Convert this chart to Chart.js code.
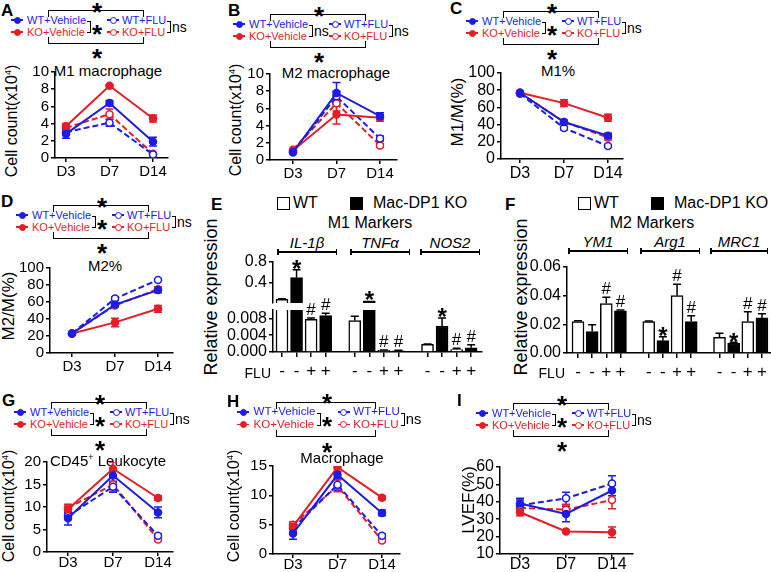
<!DOCTYPE html>
<html>
<head>
<meta charset="utf-8">
<script src="https://cdn.jsdelivr.net/npm/chart.js@4.4.0/dist/chart.umd.min.js"></script>
<style>
  body { margin: 0; background: #fff; }
  #fig { position: relative; width: 771px; height: 572px; overflow: hidden; font-family: "Liberation Sans", Arial, sans-serif; color: #000; }
  #fig canvas, #fig div { position: absolute; }
  .t { white-space: nowrap; line-height: 1; }
  sup { font-size: 9px; line-height: 0; vertical-align: 6px; }
</style>
</head>
<body>
<div id="fig"></div>
<script>
// ---- data ----
const days = ['D3', 'D7', 'D14'];

// A  M1 macrophage, cell count (x10^4)
const m1WtVeh = [2.8, 6.4, 1.9], m1WtVehErr = [0.5, 0.3, 0.5];
const m1KoVeh = [3.7, 8.4, 4.6], m1KoVehErr = [0.3, 0.1, 0.4];
const m1WtFlu = [3.0, 4.1, 0.4], m1WtFluErr = [0.2, 0.4, 0.1];
const m1KoFlu = [3.5, 5.1, 0.5], m1KoFluErr = [0.3, 0.6, 0.1];

// B  M2 macrophage
const m2WtVeh = [0.9, 7.8, 5.1], m2WtVehErr = [0.1, 1.2, 0.4];
const m2KoVeh = [1.1, 5.3, 4.9], m2KoVehErr = [0.2, 1.1, 0.4];
const m2WtFlu = [0.9, 7.4, 2.5], m2WtFluErr = [0.1, 0.6, 0.3];
const m2KoFlu = [1.2, 6.6, 1.7], m2KoFluErr = [0.1, 0.9, 0.2];

// C  M1/M (%)
const m1pWtVeh = [77, 43, 27], m1pWtVehErr = [1, 2, 3];
const m1pKoVeh = [77, 65, 48], m1pKoVehErr = [1, 4, 4];
const m1pWtFlu = [76, 36, 15], m1pWtFluErr = [1, 2, 1];
const m1pKoFlu = [77, 43, 25], m1pKoFluErr = [1, 2, 3];

// D  M2/M (%)
const m2pWtVeh = [23, 57, 74], m2pWtVehErr = [1, 2, 3];
const m2pKoVeh = [23, 36, 52], m2pKoVehErr = [1, 5, 4];
const m2pWtFlu = [23, 64, 86], m2pWtFluErr = [1, 2, 1];
const m2pKoFlu = [23, 56, 75], m2pKoFluErr = [1, 2, 3];

// E  M1 markers, relative expression
const m1Genes = ['IL-1β', 'TNFα', 'NOS2'];
const m1Wt = [0.08, 0.0075, 0.0018], m1WtErr = [0.012, 0.001, 0.0001];
const m1Ko = [0.5, 0.05, 0.0062], m1KoErr = [0.15, 0, 0.0019];
const m1WtF = [0.0078, 0.0004, 0.0006], m1WtFErr = [0.0003, 0.0001, 0.0003];
const m1KoF = [0.0087, 0.0003, 0.001], m1KoFErr = [0.0005, 0.0001, 0.0007];
const m1KoMark = ['*', '*', '*'], m1WtFMark = ['#', '#', '#'], m1KoFMark = ['#', '#', '#'];

// F  M2 markers
const m2Genes = ['YM1', 'Arg1', 'MRC1'];
const m2Wt = [0.022, 0.022, 0.011], m2WtErr = [0.0005, 0.0003, 0.0027];
const m2Ko = [0.015, 0.0086, 0.0070], m2KoErr = [0.0047, 0.0028, 0.0005];
const m2WtF = [0.0345, 0.040, 0.022], m2WtFErr = [0.0044, 0.008, 0.0068];
const m2KoF = [0.0295, 0.022, 0.0245], m2KoFErr = [0.0005, 0.004, 0.0028];
const m2KoMark = ['', '*', '*'], m2WtFMark = ['#', '#', '#'], m2KoFMark = ['#', '#', '#'];

const barSlots = [0, 1, 2, 3, 5, 6, 7, 8, 10, 11, 12, 13];
const fluSigns = ['-', '-', '+', '+'];

// G  CD45+ leukocyte
const leuWtVeh = [7.5, 17.0, 8.8], leuWtVehErr = [1.5, 1.5, 1.2];
const leuKoVeh = [9.5, 18.5, 12.0], leuKoVehErr = [1.0, 1.5, 0.5];
const leuWtFlu = [8.0, 14.5, 3.6], leuWtFluErr = [0.8, 1.2, 0.4];
const leuKoFlu = [9.8, 15.0, 2.8], leuKoFluErr = [0.8, 1.5, 0.4];

// H  Macrophage
const macWtVeh = [3.5, 13.5, 7.0], macWtVehErr = [1.0, 0.5, 0.5];
const macKoVeh = [4.7, 14.8, 9.6], macKoVehErr = [0.5, 0.3, 0.3];
const macWtFlu = [4.4, 11.8, 3.1], macWtFluErr = [0.6, 1.0, 0.3];
const macKoFlu = [5.0, 11.6, 2.3], macKoFluErr = [0.5, 1.0, 0.3];

// I  LVEF (%)
const efWtVeh = [39, 33, 46.5], efWtVehErr = [3, 4.5, 3];
const efKoVeh = [34, 23, 22.5], efKoVehErr = [2, 0.5, 3];
const efWtFlu = [38, 42, 50.5], efWtFluErr = [3, 3.5, 4.5];
const efKoFlu = [36.5, 35.5, 41], efKoFluErr = [2, 3, 5];

const BLUE = '#1c1ce6';
const RED = '#e31e26';
const FONT = '"Liberation Sans", Arial, sans-serif';

Chart.defaults.font.family = FONT;
Chart.defaults.color = '#000';

const fig = document.getElementById('fig');

// ---- html helpers ----
function el(x, y, html, css) {
  const d = document.createElement('div');
  d.style.left = x + 'px';
  d.style.top = y + 'px';
  if (html != null) { d.className = 't'; d.innerHTML = html; }
  if (css) Object.assign(d.style, css);
  fig.appendChild(d);
  return d;
}
function txt(s, x, y, size, color, extra) {
  return el(x, y - size * 0.5, s, Object.assign({ fontSize: size + 'px', color: color || '#000' }, extra || {}));
}
function txtC(s, cx, y, size, extra) {
  return txt(s, cx, y, size, '#000', Object.assign({ transform: 'translateX(-50%)' }, extra || {}));
}
function yTitle(s, cx, cy, size) {
  el(cx, cy, s, { fontSize: size + 'px', transform: 'translate(-50%,-50%) rotate(-90deg)' });
}
function star(cx, cy, size) {
  const s = size || 26;
  el(cx, cy - 0.273 * s, '*', { fontSize: s + 'px', fontWeight: 'bold', transform: 'translateX(-50%)' });
}
function bracket(x, y, w, h, sides) {
  const css = { width: w + 'px', height: h + 'px', boxSizing: 'border-box' };
  sides.split(' ').forEach(s => { css['border' + s[0].toUpperCase() + s.slice(1)] = '1.5px solid #000'; });
  el(x, y, null, css);
}
function marker(cx, cy, color, filled) {
  el(cx - 6, cy - 0.75, null, { width: '12px', height: '1.5px', background: color });
  el(cx - 3.5, cy - 3.5, null, { width: '7px', height: '7px', borderRadius: '50%', boxSizing: 'border-box',
    border: '1.5px solid ' + color, background: filled ? color : '#fff' });
}
function groupLegend(mx, my, mid, k) {
  k = k || 1;
  const f = 11 * k;
  marker(mx, my, BLUE, true); txt('WT+Vehicle', mx + 10 * k, my, f, BLUE);
  marker(mx, my + 12 * k, RED, true); txt('KO+Vehicle', mx + 10 * k, my + 12 * k, f, RED);
  marker(mx + 96 * k, my, BLUE, false); txt('WT+FLU', mx + 105 * k, my, f, BLUE);
  marker(mx + 96 * k, my + 12 * k, RED, false); txt('KO+FLU', mx + 105 * k, my + 12 * k, f, RED);
  bracket(mx + 31 * k, my - 10 * k, 96 * k, 7 * k, 'top left right');
  bracket(mx + 31 * k, my + 17 * k, 96 * k, 7 * k, 'bottom left right');
  star(mx + 80 * k, my - 14 * k);
  star(mx + 80 * k, my + 32 * k);
  bracket(mx + 70 * k, my + 1 * k, 4 * k, 12 * k, 'top right bottom');
  if (mid === '*') star(mx + 80 * k, my + 8 * k);
  else txt(mid, mx + 75 * k, my + 7 * k, 14 * k);
  bracket(mx + 150 * k, my + 1 * k, 4 * k, 12 * k, 'top right bottom');
  txt('ns', mx + 155 * k, my + 7 * k, 14 * k);
}
function barLegend(x, y) {
  el(x, y - 6.5, null, { width: '13px', height: '13px', boxSizing: 'border-box', border: '1.5px solid #000' });
  txt('WT', x + 16, y, 16);
  el(x + 73, y - 6.5, null, { width: '13px', height: '13px', background: '#000' });
  txt('Mac-DP1 KO', x + 96, y, 16);
}
function geneLabel(name, x1, x2, y) {
  txtC('<i>' + name + '</i>', (x1 + x2) / 2, y - 10, 15);
  el(x1, y - 0.75, null, { width: (x2 - x1) + 'px', height: '1.5px', background: '#000' });
  el(x1, y - 3, null, { width: '1.5px', height: '6px', background: '#000' });
  el(x2 - 1.5, y - 3, null, { width: '1.5px', height: '6px', background: '#000' });
}
function mkCanvas(x, y, w, h) {
  const c = document.createElement('canvas');
  c.width = w; c.height = h;
  c.style.left = x + 'px'; c.style.top = y + 'px';
  c.style.width = w + 'px'; c.style.height = h + 'px';
  fig.appendChild(c);
  return c;
}

// ---- chart plugins ----
function drawErr(chart, upOnly) {
  const ctx = chart.ctx, ys = chart.scales.y, a = chart.chartArea;
  ctx.save();
  ctx.beginPath();
  ctx.rect(a.left - 6, a.top, a.right - a.left + 12, a.bottom - a.top);
  ctx.clip();
  chart.data.datasets.forEach((ds, i) => {
    if (!ds.errors) return;
    const meta = chart.getDatasetMeta(i);
    ctx.strokeStyle = upOnly ? '#000' : ds.borderColor;
    ctx.lineWidth = 1.5;
    ctx.setLineDash([]);
    meta.data.forEach((pt, j) => {
      const v = ds.data[j].y, e = ds.errors[j];
      if (v == null || !e) return;
      const y1 = ys.getPixelForValue(v + e);
      const y0 = ys.getPixelForValue(upOnly ? v : v - e);
      ctx.beginPath();
      ctx.moveTo(pt.x, y0); ctx.lineTo(pt.x, y1);
      ctx.moveTo(pt.x - 4, y1); ctx.lineTo(pt.x + 4, y1);
      if (!upOnly) { ctx.moveTo(pt.x - 4, y0); ctx.lineTo(pt.x + 4, y0); }
      ctx.stroke();
    });
  });
  ctx.restore();
}
function drawMarks(chart) {
  const ctx = chart.ctx, ys = chart.scales.y;
  ctx.save();
  ctx.fillStyle = '#000';
  ctx.textAlign = 'center';
  ctx.textBaseline = 'alphabetic';
  chart.data.datasets.forEach((ds, i) => {
    if (!ds.marks) return;
    const meta = chart.getDatasetMeta(i);
    meta.data.forEach((bar, j) => {
      const m = ds.marks[j];
      if (!m || ds.data[j].y == null) return;
      const topV = ds.data[j].y + (ds.errors[j] || 0);
      if (topV > ys.max || topV < ys.min) return;
      const yTop = ys.getPixelForValue(topV);
      if (m === '*') {
        ctx.font = 'bold 24px ' + FONT;
        ctx.fillText('*', bar.x, yTop - 3 + 0.43 * 24);
      } else {
        ctx.font = '17px ' + FONT;
        ctx.fillText('#', bar.x, yTop - 3);
      }
    });
  });
  ctx.restore();
}
const errorBars = {
  id: 'errorBars',
  beforeDatasetsDraw(chart) { if (chart.config.type === 'line') drawErr(chart, false); },
  afterDatasetsDraw(chart) { if (chart.config.type === 'bar') { drawErr(chart, true); drawMarks(chart); } }
};
Chart.register(errorBars);

const axisGrid = (len) => ({ display: true, drawOnChartArea: false, drawTicks: true, tickLength: len, color: '#000', lineWidth: 1.5, offset: false });
const axisBorder = { display: true, color: '#000', width: 1.5 };

// ---- line panels ----
function lineChart(p) {
  const yw = 46, padTop = 12, padRight = 8, xh = 28;
  const left = p.axisX - yw, top = p.topY - padTop;
  const w = p.endX + padRight - left, h = p.zeroY + xh - top;
  const unit = (p.d14X - p.d3X) / 2;
  const styles = [[BLUE, false], [RED, false], [BLUE, true], [RED, true]];
  const c = mkCanvas(left, top, w, h);
  new Chart(c, {
    type: 'line',
    data: {
      datasets: p.series.map((vals, k) => ({
        data: vals.map((v, i) => ({ x: i, y: v })),
        errors: p.errs[k],
        borderColor: styles[k][0],
        backgroundColor: styles[k][0],
        borderWidth: 2,
        borderDash: styles[k][1] ? [6, 3] : [],
        pointRadius: 3.5,
        pointBorderWidth: 1.5,
        pointBackgroundColor: styles[k][1] ? '#fff' : styles[k][0],
        pointBorderColor: styles[k][0],
        tension: 0,
        fill: false
      }))
    },
    options: {
      responsive: false,
      animation: false,
      events: [],
      layout: { padding: { top: padTop, right: padRight, left: 0, bottom: 0 } },
      plugins: { legend: { display: false }, tooltip: { enabled: false } },
      scales: {
        x: {
          type: 'linear', offset: false,
          min: -(p.d3X - p.axisX) / unit,
          max: 2 + (p.endX - p.d14X) / unit,
          afterBuildTicks: s => { s.ticks = [0, 1, 2].map(v => ({ value: v })); },
          afterFit: s => { s.height = xh; },
          grid: axisGrid(4),
          border: axisBorder,
          ticks: { callback: v => days[v], font: { size: p.tf || 15 }, color: '#000',
                   padding: p.xpad == null ? 1 : p.xpad, maxRotation: 0, autoSkip: false }
        },
        y: {
          type: 'linear', min: p.ymin, max: p.ymax, beginAtZero: false,
          afterFit: s => { s.width = yw; },
          grid: axisGrid(4),
          border: axisBorder,
          ticks: { stepSize: p.step, font: { size: p.tf || 15 }, color: '#000', padding: 2, autoSkip: false }
        }
      }
    }
  });
}

// ---- bar panels ----
function barSets(wt, ko, wtF, koF, wtE, koE, wtFE, koFE, koM, wtFM, koFM) {
  const white = { data: [], errors: [], marks: [], backgroundColor: '#fff' };
  const black = { data: [], errors: [], marks: [], backgroundColor: '#000' };
  wt.forEach((_, g) => {
    white.data.push({ x: 5 * g, y: wt[g] }, { x: 5 * g + 2, y: wtF[g] });
    white.errors.push(wtE[g], wtFE[g]);
    white.marks.push('', wtFM[g]);
    black.data.push({ x: 5 * g + 1, y: ko[g] }, { x: 5 * g + 3, y: koF[g] });
    black.errors.push(koE[g], koFE[g]);
    black.marks.push(koM[g], koFM[g]);
  });
  [white, black].forEach(d => Object.assign(d, {
    borderColor: '#000', borderWidth: 1.5, barThickness: 12, grouped: false, clip: 0
  }));
  return [white, black];
}

function barChart(p) {
  const xh = 34;
  const top = p.topY - p.padTop;
  const w = p.endX + p.padRight - p.left;
  const h = p.zeroY + (p.showX ? xh : p.padBottom) - top;
  const c = mkCanvas(p.left, top, w, h);
  // bars that stay below the segment floor are not drawn in that segment
  if (p.ymin > 0) p.sets.forEach(ds => { ds.data = ds.data.map(d => ({ x: d.x, y: d.y < p.ymin ? null : d.y })); });
  new Chart(c, {
    type: 'bar',
    data: { datasets: p.sets },
    options: {
      responsive: false,
      animation: false,
      events: [],
      layout: { padding: { top: p.padTop, right: p.padRight, left: 0, bottom: p.showX ? 0 : p.padBottom } },
      plugins: { legend: { display: false }, tooltip: { enabled: false } },
      scales: {
        x: {
          type: 'linear', offset: false, display: p.showX,
          min: -(p.c0X - p.axisX) / p.pitch,
          max: (p.endX - p.c0X) / p.pitch,
          afterBuildTicks: s => { s.ticks = barSlots.map(v => ({ value: v })); },
          afterFit: s => { if (p.showX) s.height = xh; },
          grid: axisGrid(5),
          border: axisBorder,
          ticks: { callback: v => fluSigns[v % 5], font: { size: 17 }, color: '#000', padding: 4, maxRotation: 0, autoSkip: false }
        },
        y: {
          type: 'linear', min: p.ymin, max: p.ymax, beginAtZero: false,
          afterBuildTicks: s => { s.ticks = p.yticks.map(v => ({ value: v })); },
          afterFit: s => { s.width = p.axisX - p.left; },
          grid: axisGrid(4),
          border: axisBorder,
          ticks: { callback: p.fmt, font: { size: 16 }, color: '#000', padding: 2, autoSkip: false }
        }
      }
    }
  });
}

// ---- row 1 ----
txt('<b>A</b>', 1, 10, 17);
groupLegend(17, 20, '*');
txtC('M1 macrophage', 108, 70, 15);
yTitle('Cell count(x10<sup>4</sup>)', 12, 121, 16);
lineChart({ axisX: 55, topY: 72, zeroY: 158, endX: 168, d3X: 66, d14X: 153, ymin: 0, ymax: 10, step: 2,
  series: [m1WtVeh, m1KoVeh, m1WtFlu, m1KoFlu], errs: [m1WtVehErr, m1KoVehErr, m1WtFluErr, m1KoFluErr] });

txt('<b>B</b>', 228, 10, 17);
groupLegend(239, 24, 'ns');
txtC('M2 macrophage', 336, 72, 15);
yTitle('Cell count(x10<sup>4</sup>)', 236, 120, 16);
lineChart({ axisX: 270, topY: 74, zeroY: 160, endX: 397, d3X: 293, d14X: 380, ymin: 0, ymax: 10, step: 2,
  series: [m2WtVeh, m2KoVeh, m2WtFlu, m2KoFlu], errs: [m2WtVehErr, m2KoVehErr, m2WtFluErr, m2KoFluErr] });

txt('<b>C</b>', 450, 8, 17);
groupLegend(472, 21, '*');
txtC('M1%', 558, 70, 15);
yTitle('M1/M(%)', 457, 112, 17);
lineChart({ axisX: 501, topY: 73, zeroY: 159, endX: 623, d3X: 520, d14X: 608, ymin: 0, ymax: 100, step: 20, tf: 16,
  series: [m1pWtVeh, m1pKoVeh, m1pWtFlu, m1pKoFlu], errs: [m1pWtVehErr, m1pKoVehErr, m1pWtFluErr, m1pKoFluErr] });

// ---- row 2 ----
txt('<b>D</b>', 1, 201, 17);
groupLegend(22, 215, '*');
txtC('M2%', 105, 265, 15);
yTitle('M2/M(%)', 8, 306, 17);
lineChart({ axisX: 50, topY: 268, zeroY: 353, endX: 173, d3X: 72, d14X: 158, ymin: 0, ymax: 100, step: 20,
  series: [m2pWtVeh, m2pKoVeh, m2pWtFlu, m2pKoFlu], errs: [m2pWtVehErr, m2pKoVehErr, m2pWtFluErr, m2pKoFluErr] });

txt('<b>E</b>', 211, 204, 17);
barLegend(277, 203);
txtC('M1 Markers', 370, 223, 16);
m1Genes.forEach((g, i) => geneLabel(g, [277, 350, 420][i], [337, 410, 480][i], 252));
yTitle('Relative expression', 211, 297, 18);
const m1Sets = () => barSets(m1Wt, m1Ko, m1WtF, m1KoF, m1WtErr, m1KoErr, m1WtFErr, m1KoFErr, m1KoMark, m1WtFMark, m1KoFMark);
barChart({ left: 220, axisX: 273, topY: 262, zeroY: 303, endX: 482, padTop: 12, padRight: 4, padBottom: 13,
  c0X: 282, pitch: 14.55, ymin: 0.01, ymax: 0.8, yticks: [0.4, 0.8], fmt: v => v.toFixed(1), showX: false, sets: m1Sets() });
barChart({ left: 220, axisX: 273, topY: 310, zeroY: 352, endX: 482, padTop: 13, padRight: 4, padBottom: 0,
  c0X: 282, pitch: 14.55, ymin: 0, ymax: 0.01, yticks: [0, 0.004, 0.008], fmt: v => v.toFixed(3), showX: true, sets: m1Sets() });
txt('FLU', 271, 373, 14, '#000', { transform: 'translateX(-100%)' });

txt('<b>F</b>', 505, 204, 17);
barLegend(578, 203);
txtC('M2 Markers', 652, 223, 16);
m2Genes.forEach((g, i) => geneLabel(g, [568, 640, 710][i], [628, 700, 768][i], 251));
yTitle('Relative expression', 521, 297, 18);
barChart({ left: 525, axisX: 567, topY: 267, zeroY: 353, endX: 771, padTop: 12, padRight: 0, padBottom: 0,
  c0X: 578, pitch: 14.15, ymin: 0, ymax: 0.06, yticks: [0, 0.02, 0.04, 0.06], fmt: v => v.toFixed(2), showX: true,
  sets: barSets(m2Wt, m2Ko, m2WtF, m2KoF, m2WtErr, m2KoErr, m2WtFErr, m2KoFErr, m2KoMark, m2WtFMark, m2KoFMark) });
txt('FLU', 565, 373, 14, '#000', { transform: 'translateX(-100%)' });

// ---- row 3 ----
txt('<b>G</b>', 2, 400, 17);
groupLegend(20, 412, '*');
txtC('CD45<sup>+</sup> Leukocyte', 108, 460, 15);
yTitle('Cell count(x10<sup>4</sup>)', 9, 506, 16);
lineChart({ axisX: 47, topY: 462, zeroY: 552, endX: 173, d3X: 68, d14X: 158, ymin: 0, ymax: 20, step: 5, xpad: -2,
  series: [leuWtVeh, leuKoVeh, leuWtFlu, leuKoFlu], errs: [leuWtVehErr, leuKoVehErr, leuWtFluErr, leuKoFluErr] });

txt('<b>H</b>', 227, 401, 17);
groupLegend(243, 412, '*', 1.05);
txtC('Macrophage', 342, 457, 15);
yTitle('Cell count(x10<sup>4</sup>)', 234, 506, 16);
lineChart({ axisX: 273, topY: 466, zeroY: 554, endX: 400, d3X: 293, d14X: 382, ymin: 0, ymax: 15, step: 5, xpad: -2,
  series: [macWtVeh, macKoVeh, macWtFlu, macKoFlu], errs: [macWtVehErr, macKoVehErr, macWtFluErr, macKoFluErr] });

txt('<b>I</b>', 457, 400, 17);
groupLegend(482, 413, '*');
yTitle('LVEF(%)', 468, 500, 17);
lineChart({ axisX: 500, topY: 467, zeroY: 554, endX: 633, d3X: 520, d14X: 612, ymin: 10, ymax: 60, step: 10, tf: 16, xpad: -3,
  series: [efWtVeh, efKoVeh, efWtFlu, efKoFlu], errs: [efWtVehErr, efKoVehErr, efWtFluErr, efKoFluErr] });
</script>
</body>
</html>
